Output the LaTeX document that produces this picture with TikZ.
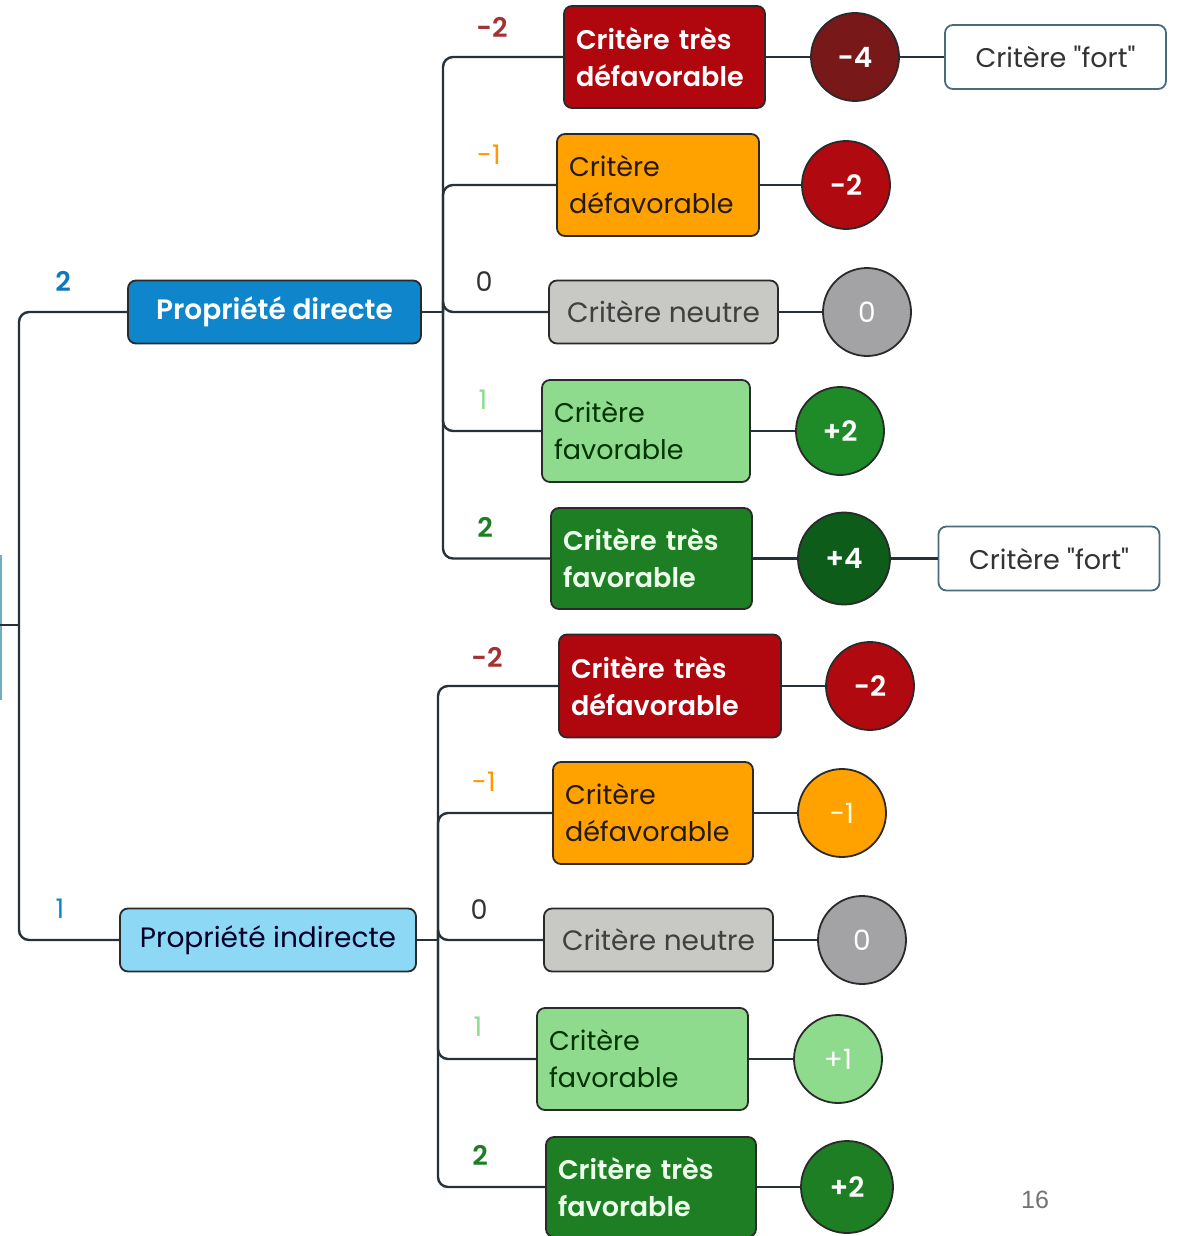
\documentclass[tikz,border=0pt]{standalone}
\usepackage{fontspec}
\setmainfont{Poppins}[Ligatures=TeXOff,BoldFont={Poppins SemiBold}]
\setsansfont{Liberation Sans}
\definecolor{cline}{HTML}{26313A}
\definecolor{bline}{HTML}{2A2A2A}
\definecolor{dred}{HTML}{B0070F}
\definecolor{maroon}{HTML}{781818}
\definecolor{rred}{HTML}{B00A10}
\definecolor{orng}{HTML}{FFA200}
\definecolor{gbox}{HTML}{C8C8C4}
\definecolor{gcirc}{HTML}{A3A3A6}
\definecolor{lgreen}{HTML}{8EDB8E}
\definecolor{dgreen}{HTML}{1E7E24}
\definecolor{mgreen}{HTML}{1E8A28}
\definecolor{vgreen}{HTML}{0E5C1A}
\definecolor{pblue}{HTML}{0F86CC}
\definecolor{lblue}{HTML}{8CD8F5}
\definecolor{fortline}{HTML}{4A6A80}
\begin{document}
\begin{tikzpicture}[x=1pt,y=-1pt,
  conn/.style={draw=cline,line width=2.4pt,rounded corners=10pt},
  cbox/.style={draw=bline,line width=1.8pt,rounded corners=8pt,inner xsep=12pt,inner ysep=0pt,
     font=\fontsize{27}{37}\selectfont,align=left},
  pbox/.style={draw=bline,line width=1.8pt,rounded corners=8pt,inner sep=0pt,
     font=\fontsize{28}{36}\selectfont,align=center},
  circ/.style={circle,draw=bline,line width=1.8pt,inner sep=0pt,minimum size=88pt,
     font=\fontsize{28}{32}\selectfont},
  fort/.style={draw=fortline,line width=1.8pt,rounded corners=8pt,inner sep=0pt,
     minimum width=221pt,minimum height=64pt,fill=white,text=black!80,font=\fontsize{27}{32}\selectfont},
  lab/.style={font=\fontsize{27}{32}\selectfont,inner sep=0pt}
]
\useasboundingbox (0,0) rectangle (1183,1236);
\fill[white] (0,0) rectangle (1183,1236);

% root
\coordinate (redge) at (0,625);
\coordinate (root) at (19,625);
\draw[draw=lblue!80!black,line width=1.5pt] (1,555) -- (1,700);

% level 1
\node[pbox,fill=pblue,text=white,minimum width=293pt,minimum height=63pt,font=\fontsize{28}{36}\selectfont\bfseries] (pd) at (274.5,312) {Propriété directe};
\node[pbox,fill=lblue,text=black!85!blue,minimum width=296pt,minimum height=63pt] (pi) at (268,940) {Propriété indirecte};
\node[lab,text=pblue!90!black,font=\fontsize{27}{32}\selectfont\bfseries] (l2) at (63,281) {2};
\node[lab,text=pblue] (l1) at (60,909) {1};

\draw[conn] (redge) -- (root);
\draw[conn] (root) |- (pd.west);
\draw[conn] (root) |- (pi.west);

% junctions
\coordinate (ju) at (443,312);
\coordinate (jl) at (438,940);
\draw[conn] (pd.east) -- (ju);
\draw[conn] (pi.east) -- (jl);

% upper children
\node[cbox,fill=dred,text=white,minimum width=201pt,minimum height=102pt,text width=177pt,font=\fontsize{27}{37}\selectfont\bfseries] (u1) at (664.5,57) {Critère très\\défavorable};
\node[cbox,fill=orng,text=black!80!brown,minimum width=202pt,minimum height=102pt,text width=178pt] (u2) at (658,185) {Critère\\défavorable};
\node[pbox,fill=gbox,text=black!75,minimum width=229pt,minimum height=63pt] (u3) at (663.5,312) {Critère neutre};
\node[cbox,fill=lgreen,text=green!20!black,minimum width=208pt,minimum height=102pt,text width=184pt] (u4) at (646,431) {Critère\\favorable};
\node[cbox,fill=dgreen,text=green!8!white,minimum width=201pt,minimum height=101pt,text width=177pt,font=\fontsize{27}{37}\selectfont\bfseries] (u5) at (651.5,558.5) {Critère très\\favorable};

\node[lab,text=red!55!black!80,font=\fontsize{27}{32}\selectfont\bfseries] (ul1) at (492,27) {-2};
\node[lab,text=orange!80!yellow] (ul2) at (489,155) {-1};
\node[lab,text=black!80] (ul3) at (484,282) {0};
\node[lab,text=lgreen] (ul4) at (483,400) {1};
\node[lab,text=dgreen,font=\fontsize{27}{32}\selectfont\bfseries] (ul5) at (485,527) {2};

\foreach \c in {u1,u2,u3,u4,u5} \draw[conn] (ju) |- (\c.west);

\node[circ,fill=maroon,text=white,font=\fontsize{28}{32}\selectfont\bfseries] (uc1) at (855,57) {-4};
\node[circ,fill=rred,text=white,font=\fontsize{28}{32}\selectfont\bfseries] (uc2) at (846,185) {-2};
\node[circ,fill=gcirc,text=white] (uc3) at (867,312) {0};
\node[circ,fill=mgreen,text=white,font=\fontsize{28}{32}\selectfont\bfseries] (uc4) at (840,431) {+2};
\node[circ,fill=vgreen,text=white,minimum size=92pt,font=\fontsize{28}{32}\selectfont\bfseries] (uc5) at (844,558.5) {+4};

\draw[conn] (u1.east) -- (uc1.west);
\draw[conn] (u2.east) -- (uc2.west);
\draw[conn] (u3.east) -- (uc3.west);
\draw[conn] (u4.east) -- (uc4.west);
\draw[conn] (u5.east) -- (uc5.west);

\node[fort] (f1) at (1055.5,57) {Critère "fort"};
\node[fort] (f2) at (1049,558.5) {Critère "fort"};
\draw[conn] (uc1.east) -- (f1.west);
\draw[conn] (uc5.east) -- (f2.west);

% lower children
\node[cbox,fill=dred,text=white,minimum width=222pt,minimum height=103pt,text width=198pt,font=\fontsize{27}{37}\selectfont\bfseries] (d1) at (670,686) {Critère très\\défavorable};
\node[cbox,fill=orng,text=black!80!brown,minimum width=200pt,minimum height=102pt,text width=176pt] (d2) at (653,813) {Critère\\défavorable};
\node[pbox,fill=gbox,text=black!75,minimum width=229pt,minimum height=63pt] (d3) at (658.5,940) {Critère neutre};
\node[cbox,fill=lgreen,text=green!20!black,minimum width=211pt,minimum height=102pt,text width=187pt] (d4) at (642.5,1059) {Critère\\favorable};
\node[cbox,fill=dgreen,text=green!8!white,minimum width=210pt,minimum height=100pt,text width=186pt,font=\fontsize{27}{37}\selectfont\bfseries] (d5) at (651,1187) {Critère très\\favorable};

\node[lab,text=red!55!black!80,font=\fontsize{27}{32}\selectfont\bfseries] (dl1) at (487,657) {-2};
\node[lab,text=orange!80!yellow] (dl2) at (484,782) {-1};
\node[lab,text=black!80] (dl3) at (479,910) {0};
\node[lab,text=lgreen] (dl4) at (478,1027) {1};
\node[lab,text=dgreen,font=\fontsize{27}{32}\selectfont\bfseries] (dl5) at (480,1155) {2};

\foreach \c in {d1,d2,d3,d4,d5} \draw[conn] (jl) |- (\c.west);

\node[circ,fill=rred,text=white,font=\fontsize{28}{32}\selectfont\bfseries] (dc1) at (870,686) {-2};
\node[circ,fill=orng,text=white!85!yellow] (dc2) at (842,813) {-1};
\node[circ,fill=gcirc,text=white] (dc3) at (862,940) {0};
\node[circ,fill=lgreen,text=white] (dc4) at (838,1059) {+1};
\node[circ,fill=dgreen,text=white,minimum size=92pt,font=\fontsize{28}{32}\selectfont\bfseries] (dc5) at (847,1187) {+2};

\draw[conn] (d1.east) -- (dc1.west);
\draw[conn] (d2.east) -- (dc2.west);
\draw[conn] (d3.east) -- (dc3.west);
\draw[conn] (d4.east) -- (dc4.west);
\draw[conn] (d5.east) -- (dc5.west);

\node[font=\sffamily\fontsize{25}{30}\selectfont,text=black!55,inner sep=0pt] (pg) at (1035,1200) {16};
\end{tikzpicture}
\end{document}
